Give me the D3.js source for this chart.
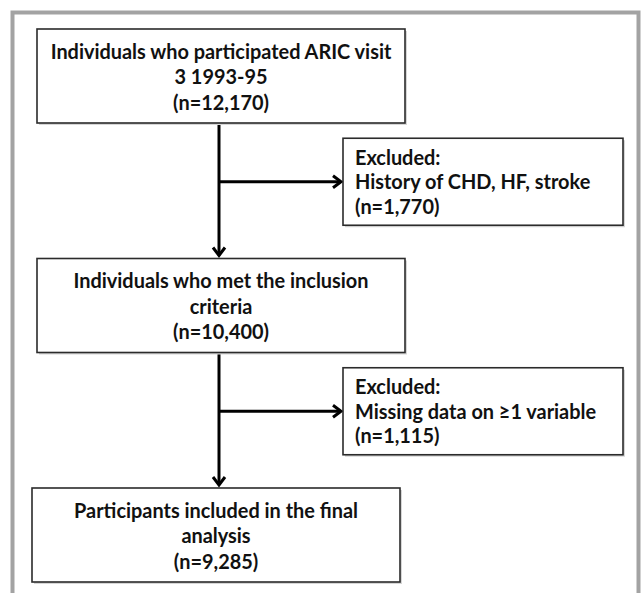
<!DOCTYPE html>
<html>
<head>
<meta charset="utf-8">
<script src="https://cdn.jsdelivr.net/npm/d3@7"></script>
<style>
  body { margin: 0; background: #fff; }
  text { font-family: Lato, "Open Sans", sans-serif; font-weight: 700; font-size: 20px; fill: #111; }
</style>
</head>
<body>
<svg width="641" height="593"></svg>
<script>
// main flow: one box per stage
var stageLabels = [
  ["Individuals who participated ARIC visit", "3 1993-95"],
  ["Individuals who met the inclusion", "criteria"],
  ["Participants included in the final", "analysis"]
];
var stageCounts = ["12,170", "10,400", "9,285"];

// exclusions between stages
var exclHeader = "Excluded:";
var exclLabels = ["History of CHD, HF, stroke", "Missing data on \u22651 variable"];
var exclCounts = ["1,770", "1,115"];

var svg = d3.select("svg");

// layout
var boxW = 368, boxH = 94, exW = 280, exH = 87;
var stageShift = [0, 0, -5];   // last box sits a little to the left
var y = d3.scaleLinear().domain([0, stageLabels.length - 1]).range([29, 488]);
var x = d3.scaleLinear().domain([0, 1]).range([37, 343]); // 0 = main column, 1 = exclusion column
var spineX = x(0) + boxW / 2 - 2;

// outer grey frame
svg.append("rect")
  .attr("x", 12.5).attr("y", 12.5)
  .attr("width", 626).attr("height", 620)
  .attr("fill", "none")
  .attr("stroke", "#a3a3a3")
  .attr("stroke-width", 4);

function drawBox(g, w, h) {
  g.append("rect") //soft shadow
    .attr("x", 2).attr("y", 2).attr("width", w).attr("height", h)
    .attr("fill", "#d6d6d6");
  g.append("rect")
    .attr("width", w).attr("height", h)
    .attr("fill", "#fff")
    .attr("stroke", "#2b2b2b")
    .attr("stroke-width", 1.6);
}

// arrows first so boxes sit on top
var arrows = svg.append("g").attr("stroke", "#000").attr("stroke-width", 3).attr("fill", "none");

function chevronDown(px, py) {
  arrows.append("polyline").attr("points", [[px - 6, py - 8], [px, py], [px + 6, py - 8]].join(" "));
}
function chevronRight(px, py) {
  arrows.append("polyline").attr("points", [[px - 8, py - 6], [px, py], [px - 8, py + 6]].join(" "));
}

d3.range(stageLabels.length - 1).forEach(function (i) {
  var top = y(i) + boxH, bottom = y(i + 1) - 3;
  arrows.append("line").attr("x1", spineX).attr("x2", spineX).attr("y1", top).attr("y2", bottom);
  chevronDown(spineX, bottom);
  var by = (top + y(i + 1)) / 2 - 9;
  arrows.append("line").attr("x1", spineX).attr("x2", x(1) - 2).attr("y1", by).attr("y2", by);
  chevronRight(x(1) - 2, by);
});

// main boxes
var mainG = svg.selectAll("g.stage")
  .data(stageLabels.map(function (l, i) { return { lines: l.concat(["(n=" + stageCounts[i] + ")"]), i: i }; }))
  .enter()
  .append("g")
  .attr("class", "stage")
  .attr("transform", function (d) { return "translate(" + (x(0) + stageShift[d.i]) + "," + y(d.i) + ")"; });

mainG.each(function () { drawBox(d3.select(this), boxW, boxH); });

mainG.selectAll("text")
  .data(function (d) { return d.lines; })
  .enter()
  .append("text")
  .attr("class", "squeeze")
  .attr("text-anchor", "middle")
  .attr("data-cx", boxW / 2)
  .attr("y", function (d, j) { return 23 + j * 25.5; })
  .attr("dy", "0.35em")
  .text(function (d) { return d; });

// exclusion boxes
var exG = svg.selectAll("g.excl")
  .data(exclLabels.map(function (l, i) { return { lines: [exclHeader, l, "(n=" + exclCounts[i] + ")"], i: i }; }))
  .enter()
  .append("g")
  .attr("class", "excl")
  .attr("transform", function (d) {
    var by = (y(d.i) + boxH + y(d.i + 1)) / 2 - 9;
    return "translate(" + x(1) + "," + (by - exH / 2) + ")";
  });

exG.each(function () { drawBox(d3.select(this), exW, exH); });

exG.selectAll("text")
  .data(function (d) { return d.lines; })
  .enter()
  .append("text")
  .attr("class", "squeeze")
  .attr("data-cx", 12)
  .attr("y", function (d, j) { return 19.5 + j * 24.5; })
  .attr("dy", "0.35em")
  .text(function (d) { return d; });

// narrow the glyphs so they match the condensed face in the source
var ref = mainG.select("text").node();
var k = 341 / ref.getComputedTextLength();
svg.selectAll("text.squeeze").each(function () {
  var cx = +this.getAttribute("data-cx");
  d3.select(this)
    .attr("x", 0)
    .attr("transform", "translate(" + cx + ",0) scale(" + k + ",1)");
});
</script>
</body>
</html>
